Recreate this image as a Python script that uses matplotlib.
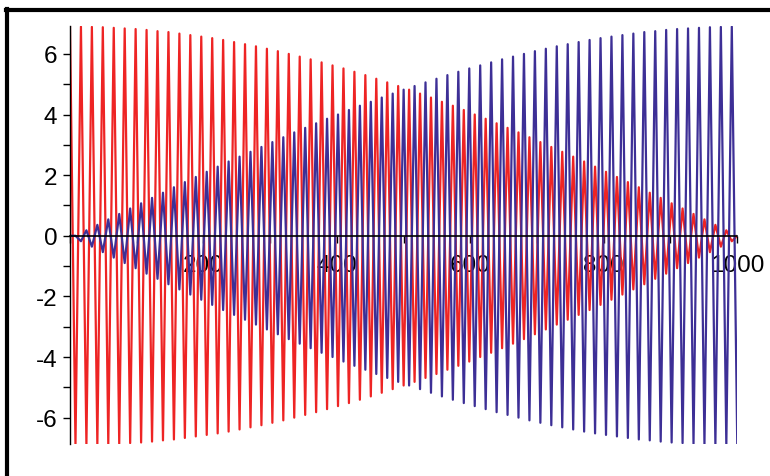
import numpy as np
import matplotlib
matplotlib.use('Agg')
import matplotlib.pyplot as plt
import matplotlib.ticker as ticker
from matplotlib.lines import Line2D

#
# peak amplitude of each oscillation cycle
#
# red starts at full swing and dies out towards x=1000
red_amp = [6.90, 6.90, 6.89, 6.88, 6.86, 6.84, 6.82, 6.79, 6.75, 6.72,
           6.67, 6.62, 6.57, 6.52, 6.46, 6.39, 6.32, 6.25, 6.17, 6.09,
           6.00, 5.91, 5.82, 5.72, 5.62, 5.52, 5.41, 5.30, 5.18, 5.06,
           4.94, 4.82, 4.69, 4.56, 4.42, 4.29, 4.15, 4.00, 3.86, 3.71,
           3.56, 3.41, 3.25, 3.09, 2.93, 2.77, 2.61, 2.45, 2.28, 2.11,
           1.94, 1.77, 1.60, 1.42, 1.25, 1.07, 0.90, 0.72, 0.54, 0.36,
           0.18, 0.00]
# blue grows from nothing to full swing
blue_amp = [0.00, 0.18, 0.36, 0.54, 0.72, 0.90, 1.07, 1.25, 1.42, 1.60,
            1.77, 1.94, 2.11, 2.28, 2.45, 2.61, 2.77, 2.93, 3.09, 3.25,
            3.41, 3.56, 3.71, 3.86, 4.00, 4.15, 4.29, 4.42, 4.56, 4.69,
            4.82, 4.94, 5.06, 5.18, 5.30, 5.41, 5.52, 5.62, 5.72, 5.82,
            5.91, 6.00, 6.09, 6.17, 6.25, 6.32, 6.39, 6.46, 6.52, 6.57,
            6.62, 6.67, 6.72, 6.75, 6.79, 6.82, 6.84, 6.86, 6.88, 6.89,
            6.90, 6.90]
cycle_length = 16.4          # x units per oscillation
x_ticks = [200, 400, 600, 800, 1000]
y_ticks = [-6, -4, -2, 0, 2, 4, 6]

RED = '#ee2424'
BLUE = '#3d2f96'


def swing(amp, sign):
    # turning points: one max and one min per cycle
    n = 2 * len(amp) - 1
    xs = np.arange(n) * cycle_length / 2
    ys = np.array([amp[k // 2] * (1 if k % 2 == 0 else -1) for k in range(n)]) * sign
    return xs, ys


plt.rcParams['font.family'] = ['Liberation Sans', 'DejaVu Sans']
plt.rcParams['axes.unicode_minus'] = False

fig = plt.figure(figsize=(7.7, 4.77), dpi=100)
ax = fig.add_axes([70 / 770, 32 / 477, 667 / 770, 418 / 477])

rx, ry = swing(red_amp, 1)
bx, by = swing(blue_amp, -1)
ax.plot(rx, ry, color=RED, lw=1.6)
ax.plot(bx, by, color=BLUE, lw=1.6)

ax.set_xlim(0, 1000)
ax.set_ylim(-6.87, 6.92)

# maple style axes crossing at the origin
ax.spines['top'].set_visible(False)
ax.spines['right'].set_visible(False)
ax.spines['bottom'].set_position(('data', 0))
ax.spines['bottom'].set_linewidth(1.2)
ax.spines['left'].set_linewidth(1.0)
ax.spines['bottom'].set_zorder(5)

ax.xaxis.set_major_locator(ticker.FixedLocator(x_ticks))
ax.xaxis.set_minor_locator(ticker.MultipleLocator(100))
ax.yaxis.set_major_locator(ticker.FixedLocator(y_ticks))
ax.yaxis.set_minor_locator(ticker.MultipleLocator(1))
ax.tick_params(axis='x', which='both', direction='out', length=5, width=1, pad=8, labelsize=17.5)
ax.tick_params(axis='y', which='both', direction='out', length=5, width=1, pad=4, labelsize=17.5)

# frame around the picture (only top and left show)
fig.add_artist(Line2D([6 / 770, 1], [466 / 477, 466 / 477], transform=fig.transFigure,
                      color='black', lw=3))
fig.add_artist(Line2D([7 / 770, 7 / 770], [0, 467 / 477], transform=fig.transFigure,
                      color='black', lw=3))

fig.savefig('out.png', dpi=100)
